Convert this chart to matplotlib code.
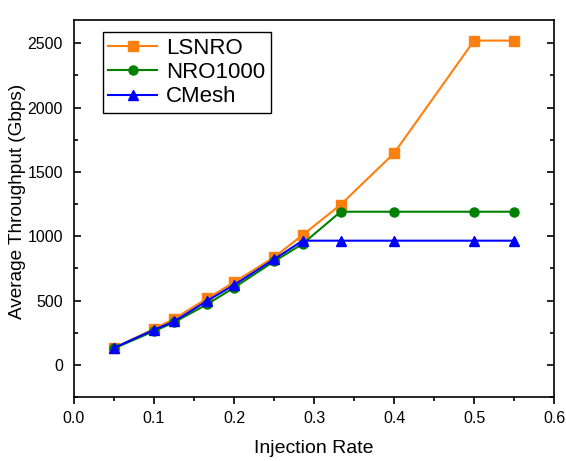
import matplotlib
matplotlib.use('Agg')
import matplotlib.pyplot as plt
from matplotlib.ticker import MultipleLocator

plt.rcParams['font.family'] = ['Liberation Sans', 'DejaVu Sans']

injection_rate = [0.05, 0.1, 0.125, 0.1667, 0.2, 0.25, 0.2857, 0.3333, 0.4, 0.5, 0.55]
lsnro = [130, 280, 357, 517, 642, 836, 1009, 1245, 1645, 2520, 2520]
nro1000 = [128, 262, 330, 472, 600, 804, 940, 1190, 1190, 1190, 1190]
cmesh = [132, 272, 337, 499, 621, 820, 965, 965, 965, 965, 965]

fig = plt.figure(figsize=(5.66, 4.61), dpi=100)
ax = fig.add_axes([0.1307, 0.1388, 0.8483, 0.8178])

ax.plot(injection_rate, lsnro, color='#ff7f0e', marker='s', markersize=6.5, linewidth=1.5, label='LSNRO')
ax.plot(injection_rate, nro1000, color='green', marker='o', markersize=6.5, linewidth=1.5, label='NRO1000')
ax.plot(injection_rate, cmesh, color='blue', marker='^', markersize=7.5, linewidth=1.5, label='CMesh')

ax.set_xlim(0, 0.6)
ax.set_ylim(-250, 2680)
ax.xaxis.set_major_locator(MultipleLocator(0.1))
ax.xaxis.set_minor_locator(MultipleLocator(0.05))
ax.yaxis.set_major_locator(MultipleLocator(500))
ax.yaxis.set_minor_locator(MultipleLocator(250))
ax.xaxis.set_major_formatter(matplotlib.ticker.FormatStrFormatter('%.1f'))

ax.tick_params(axis='x', which='both', direction='out', labelsize=11.5, width=1.2, pad=5)
ax.tick_params(axis='x', which='major', length=5)
ax.tick_params(axis='x', which='minor', length=3)
ax.tick_params(axis='y', which='both', direction='in', right=True, labelsize=11.5, width=1.2, pad=8)
ax.tick_params(axis='y', which='major', length=5)
ax.tick_params(axis='y', which='minor', length=3)
for s in ax.spines.values():
    s.set_linewidth(1.2)

ax.set_xlabel('Injection Rate', fontsize=14, labelpad=10)
ax.set_ylabel('Average Throughput (Gbps)', fontsize=13.7)
ax.yaxis.set_label_coords(-0.1, 0.52)

ax.legend(loc='upper left', bbox_to_anchor=(0.06, 0.968), borderaxespad=0, fontsize=16,
          fancybox=False, edgecolor='black', framealpha=1, handlelength=2.2, borderpad=0.25,
          labelspacing=0.15, handletextpad=0.4)

fig.savefig('out.png', dpi=100)
